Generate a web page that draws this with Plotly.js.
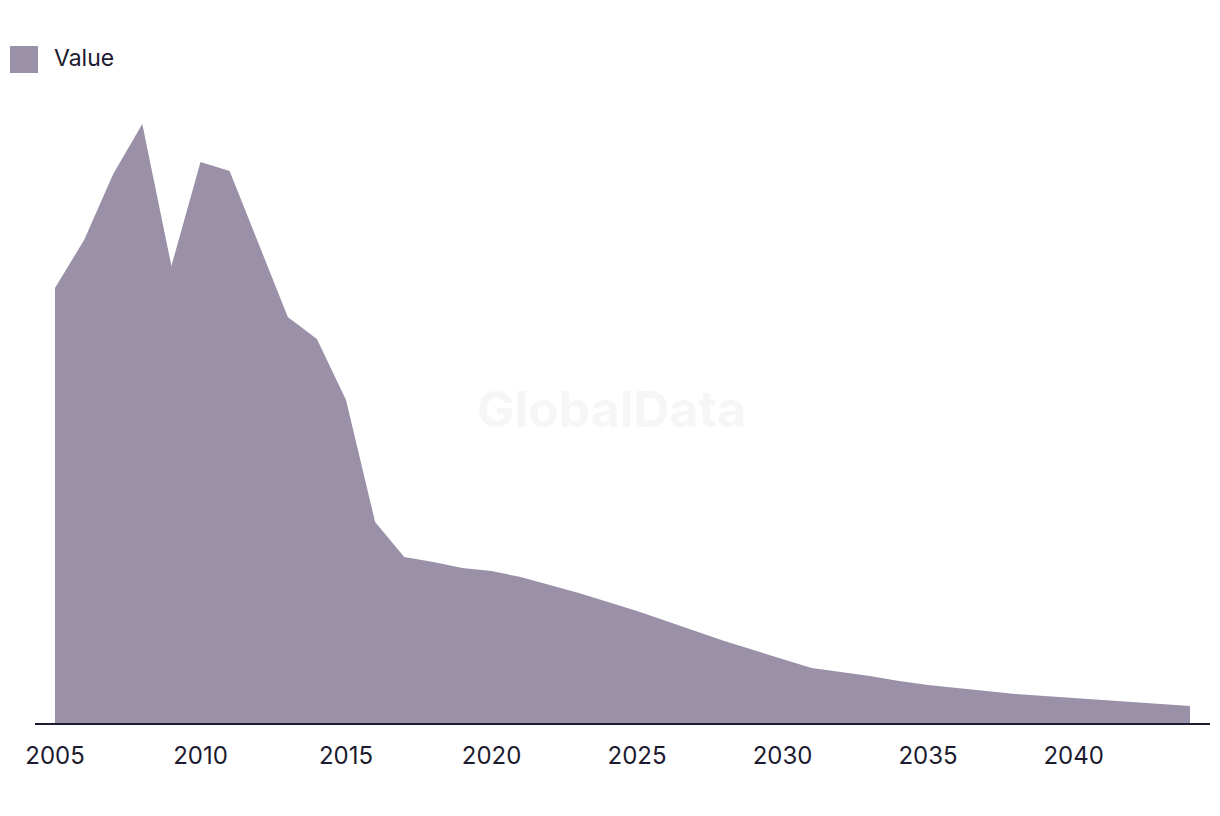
<!DOCTYPE html>
<html>
<head>
<meta charset="utf-8">
<script src="https://cdn.plot.ly/plotly-3.0.1.min.js"></script>
<style>html,body{margin:0;padding:0;background:#fff;}#chart{width:1220px;height:816px;}</style>
</head>
<body>
<div id="chart"></div>
<script>
const years = [];
for (let y = 2005; y <= 2044; y++) years.push(y);
const values = [435, 483, 549, 599, 457, 561, 552, 480, 406, 384, 323, 201, 166, 161, 155, 152, 146, 138, 130, 121,
                112, 102, 92, 82, 73, 64, 55, 51, 47, 42, 38, 35, 32, 29, 27, 25, 23, 21, 19, 17];
const tickYears = [2005, 2010, 2015, 2020, 2025, 2030, 2035, 2040];
const seriesName = "Value";
const fillColor = "#9a91a9";
const textColor = "#1c1b30";

const trace = {
  x: years, y: values, type: "scatter", mode: "lines",
  fill: "tozeroy", fillcolor: fillColor,
  line: {width: 0, color: fillColor},
  name: seriesName, showlegend: false, hoverinfo: "x+y"
};

const layout = {
  width: 1220, height: 816,
  margin: {l: 35, r: 10, t: 100, b: 93},
  paper_bgcolor: "#fff", plot_bgcolor: "#fff",
  font: {family: "Inter, 'Liberation Sans', sans-serif", color: textColor},
  xaxis: {
    range: [2004.313, 2044.687], tickvals: tickYears, ticktext: tickYears.map(String),
    showgrid: false, zeroline: false, showline: true, linecolor: textColor, linewidth: 2,
    ticks: "", tickfont: {size: 24, color: textColor}, ticklabelstandoff: 10, fixedrange: true
  },
  yaxis: {range: [0, 623], visible: false, showgrid: false, zeroline: false, fixedrange: true},
  shapes: [{type: "rect", xref: "paper", yref: "paper", x0: -25/1175, x1: 3/1175,
            y0: (723-73)/623, y1: (723-46)/623, line: {width: 0}, fillcolor: fillColor}],
  annotations: [
    {text: seriesName, xref: "paper", yref: "paper", x: 17/1175, y: (723-58)/623,
     xanchor: "left", yanchor: "middle", showarrow: false, font: {size: 23, color: textColor}},
    {text: "<b>GlobalData</b>", xref: "paper", yref: "paper", x: (611-35)/1175, y: (723-409)/623,
     xanchor: "center", yanchor: "middle", showarrow: false, font: {size: 50, color: "#f6f6f6"}}
  ]
};

Plotly.newPlot("chart", [trace], layout, {displayModeBar: false, staticPlot: true});
</script>
</body>
</html>
